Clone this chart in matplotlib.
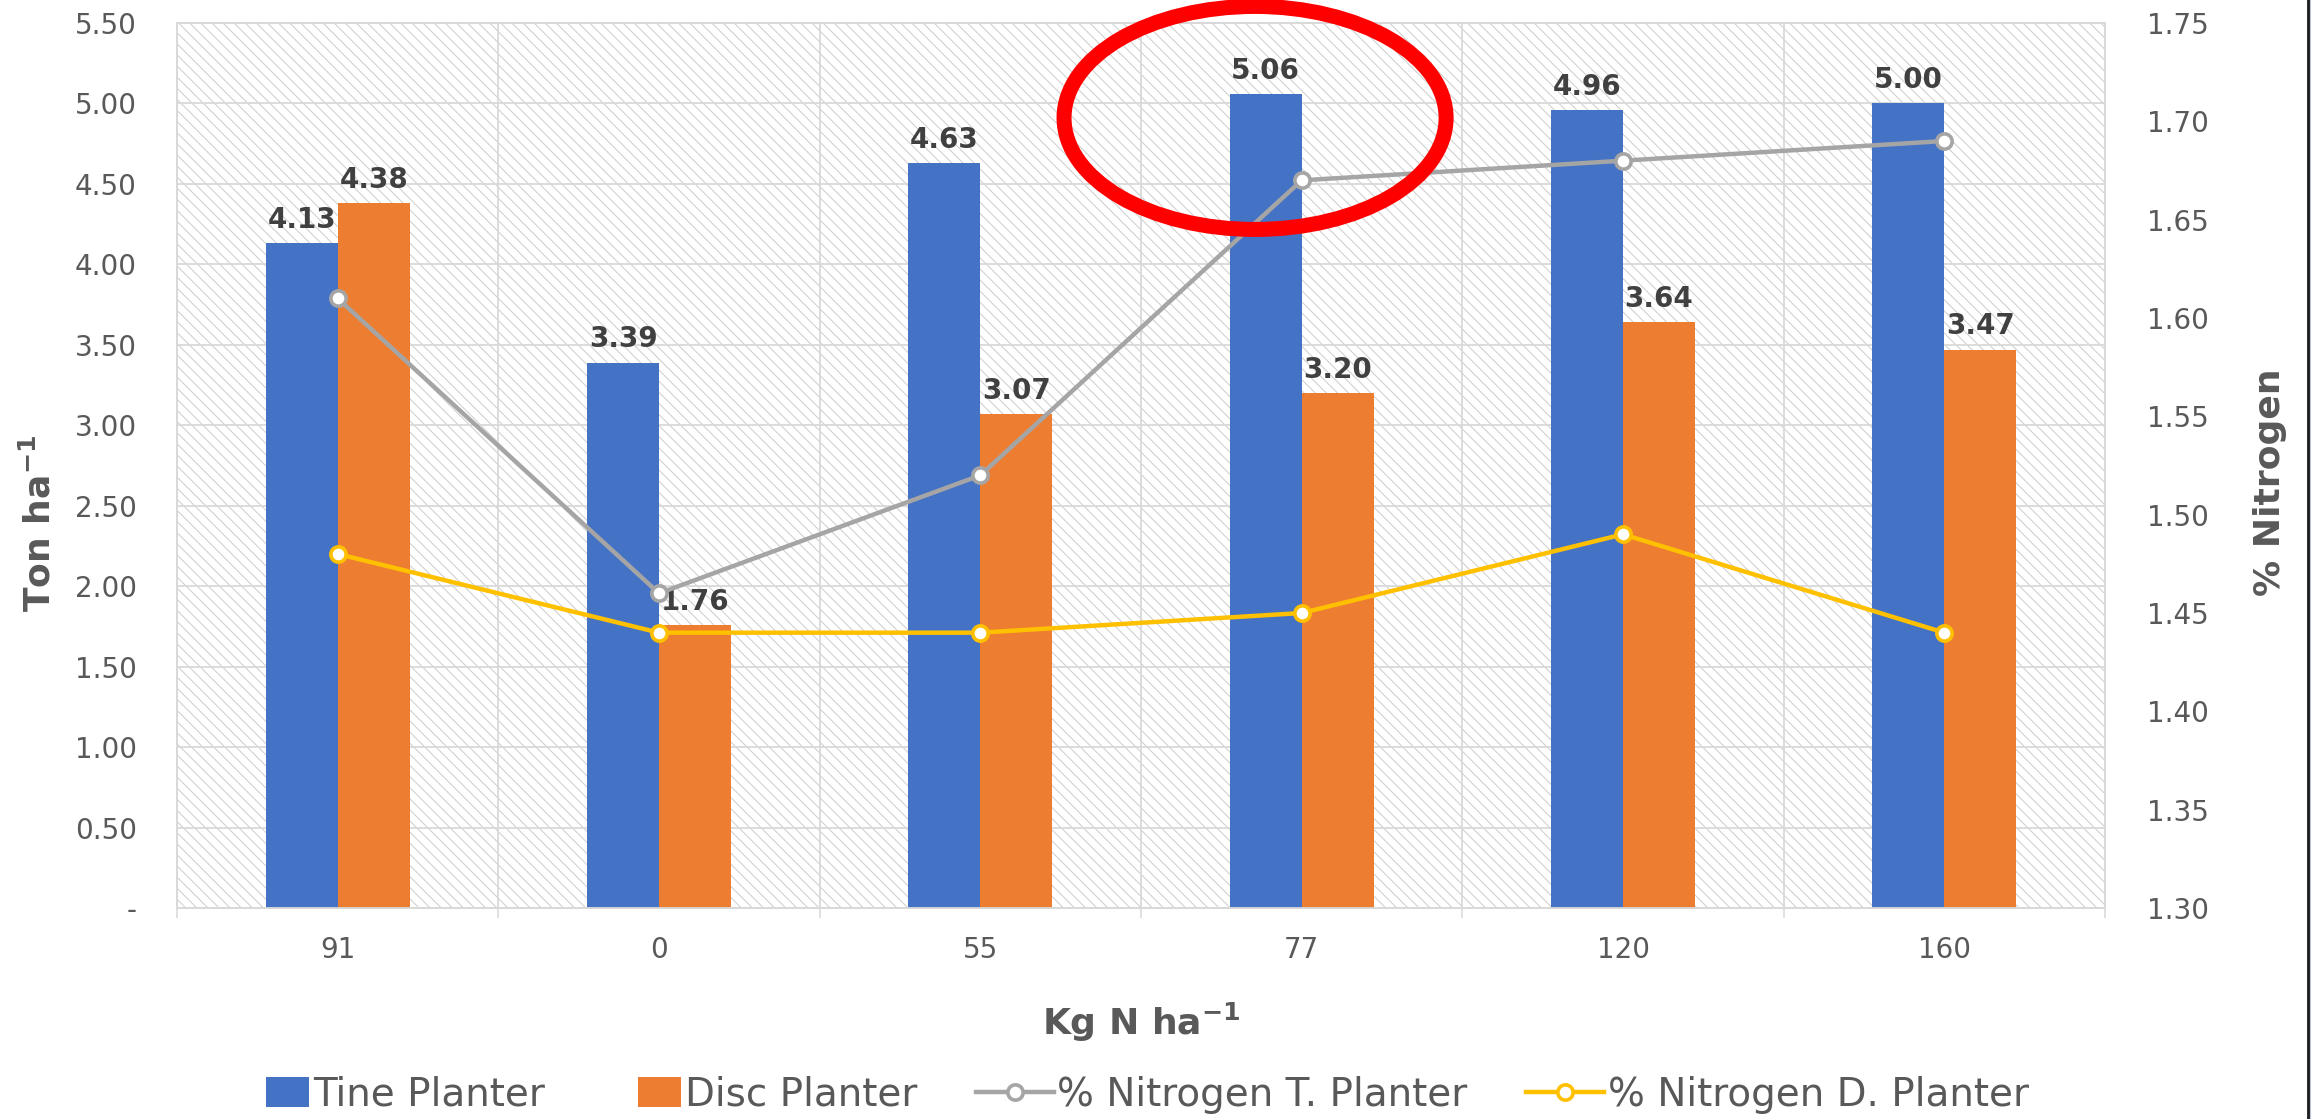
import matplotlib

matplotlib.use("Agg")
import matplotlib.pyplot as plt
import matplotlib.patches as mpatches
from matplotlib.container import BarContainer
from matplotlib.legend_handler import HandlerPatch
from matplotlib.ticker import FuncFormatter
import numpy as np

# data
categories = ["91", "0", "55", "77", "120", "160"]
tine_yield = [4.13, 3.39, 4.63, 5.06, 4.96, 5.00]
disc_yield = [4.38, 1.76, 3.07, 3.20, 3.64, 3.47]
nitrogen_tine = [1.61, 1.46, 1.52, 1.67, 1.68, 1.69]
nitrogen_disc = [1.48, 1.44, 1.44, 1.45, 1.49, 1.44]

BLUE = "#4472C4"
ORANGE = "#ED7D31"
GRAY = "#A5A5A5"
GOLD = "#FFC000"
GRID = "#D9D9D9"
TXT = "#595959"
LBL = "#404040"

plt.rcParams["font.family"] = ["DejaVu Sans"]
plt.rcParams["hatch.linewidth"] = 0.7

W, H = 2311, 1119
fig = plt.figure(figsize=(W / 100, H / 100), dpi=100)
# plot area in pixels: left 177, right 2105, top 23, bottom 908
ax = fig.add_axes([177 / W, 1 - 908 / H, (2105 - 177) / W, (908 - 23) / H])
ax2 = ax.twinx()

# hatched plot-area background
ax.patch.set_facecolor("white")
ax.patch.set_hatch("\\\\\\")
ax.patch.set_edgecolor("#CCCCCC")
ax.patch.set_linewidth(0)

x = np.arange(len(categories))
bw = 0.224
b1 = ax.bar(x - bw / 2, tine_yield, bw, color=BLUE, label="Tine Planter", zorder=3)
b2 = ax.bar(x + bw / 2, disc_yield, bw, color=ORANGE, label="Disc Planter", zorder=3)

for bars, vals in ((b1, tine_yield), (b2, disc_yield)):
    for rect, v in zip(bars, vals):
        ax.annotate(f"{v:.2f}", (rect.get_x() + rect.get_width() / 2, v),
                    xytext=(0, 11), textcoords="offset points",
                    ha="center", va="baseline", fontsize=20,
                    fontweight="bold", color=LBL, zorder=5)

l1, = ax2.plot(x, nitrogen_tine, color=GRAY, lw=3.2, marker="o", ms=11,
               mfc="white", mec=GRAY, mew=2.6, label="% Nitrogen T. Planter",
               zorder=4)
l2, = ax2.plot(x, nitrogen_disc, color=GOLD, lw=3.2, marker="o", ms=11,
               mfc="white", mec=GOLD, mew=2.6, label="% Nitrogen D. Planter",
               zorder=4)

ax.set_xlim(-0.5, len(categories) - 0.5)
ax.set_ylim(0, 5.5)
ax2.set_ylim(1.30, 1.75)

ax.set_yticks(np.arange(0, 5.51, 0.5))
ax.yaxis.set_major_formatter(FuncFormatter(lambda v, _: "-" if v == 0 else f"{v:.2f}"))
ax2.set_yticks(np.arange(1.30, 1.751, 0.05))
ax2.yaxis.set_major_formatter(FuncFormatter(lambda v, _: f"{v:.2f}"))

ax.set_xticks(x)
ax.set_xticklabels(categories)
ax.set_xticks(np.arange(-0.5, len(categories)), minor=True)

ax.tick_params(axis="x", which="major", length=0, pad=20, labelsize=20, labelcolor=TXT)
ax.tick_params(axis="x", which="minor", length=7.2, width=1.1, color=GRID, direction="out")
ax.tick_params(axis="y", length=0, pad=29, labelsize=20, labelcolor=TXT)
ax2.tick_params(axis="y", length=0, pad=30, labelsize=20, labelcolor=TXT)

ax.grid(axis="y", which="major", color=GRID, lw=1.3, zorder=1)
ax.grid(axis="x", which="minor", color=GRID, lw=1.3, zorder=1)
ax.set_axisbelow(True)
for a in (ax, ax2):
    for s in a.spines.values():
        s.set_color(GRID)
        s.set_linewidth(1.3)

ax.set_ylabel("Ton ha$^{\\mathbf{-1}}$", fontsize=26, fontweight="bold", color=TXT)
ax.yaxis.set_label_coords(-0.062, 0.435)
ax2.set_ylabel("% Nitrogen", fontsize=26, fontweight="bold", color=TXT)
ax2.yaxis.set_label_coords(1.077, 0.481)
ax.set_xlabel("Kg N ha$^{\\mathbf{-1}}$", fontsize=26, fontweight="bold", color=TXT)
ax.xaxis.set_label_coords(0.5, -0.105)

# red highlight ellipse around the 77 kg N bar
ring = mpatches.Ellipse((2.855, 4.91), 1.189, 1.386, transform=ax.transData,
                        fill=False, edgecolor="#FF0000", lw=10.8,
                        clip_on=False, zorder=10)
ax2.add_patch(ring)


def small_box(legend, orig_handle, xdescent, ydescent, width, height, fontsize):
    w = width * 0.55
    return mpatches.Rectangle((width - w - xdescent, -ydescent - height * 0.05),
                              w, height * 1.1)


def first_child(handle, orig):
    handle.update_from(orig.patches[0])


leg = fig.legend([b1, b2, l1, l2],
                 ["Tine Planter", "Disc Planter", "% Nitrogen T. Planter",
                  "% Nitrogen D. Planter"],
                 loc="center", bbox_to_anchor=(0.489, 1 - 1095 / H), ncol=4,
                 frameon=False, fontsize=28, handlelength=2.0,
                 handletextpad=0.1, columnspacing=1.5,
                 handler_map={BarContainer: HandlerPatch(patch_func=small_box,
                                                         update_func=first_child)})
for t in leg.get_texts():
    t.set_color(TXT)

# screenshot edge on the right
fig.add_artist(plt.Line2D([2308 / W, 2308 / W], [0, 1], color="#1A1A1A", lw=2,
                          transform=fig.transFigure))
fig.add_artist(mpatches.Rectangle((2309.3 / W, 0), 2 / W, 1, color="#B4C4DC",
                                  transform=fig.transFigure, lw=0))

fig.savefig("out.png", dpi=100)
